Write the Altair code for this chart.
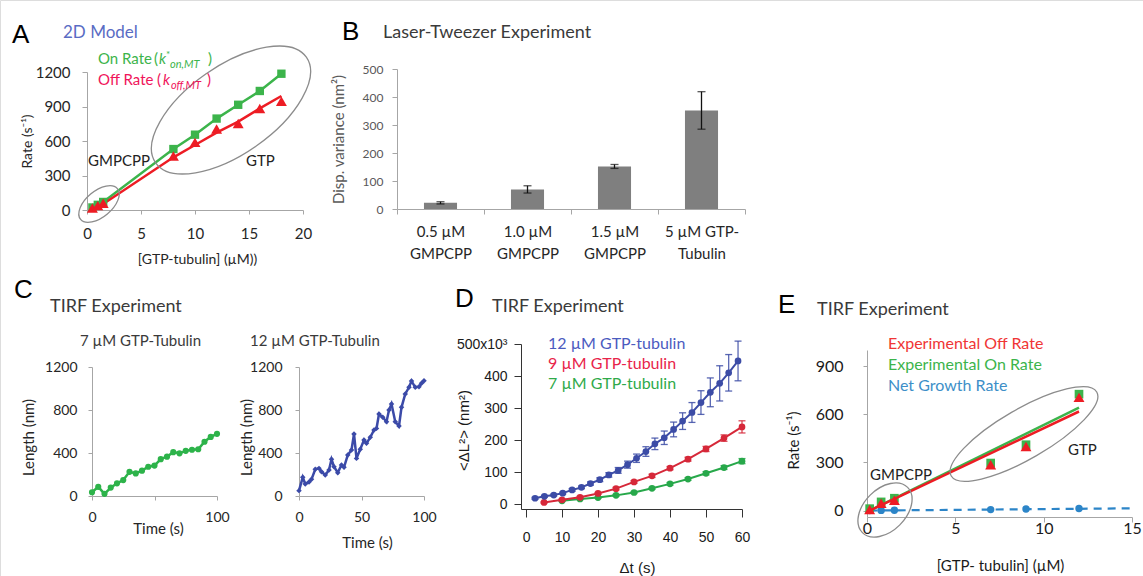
import altair as alt
import pandas as pd

W, H = 1143, 576
CAL = "Lato"
ARI = "Liberation Sans"

# ---------------- Panel A : 2D model ----------------
A_conc = [0.5, 1.0, 1.5, 8, 10, 12, 14, 16, 18]
A_on_rate = [22, 45, 70, 530, 655, 795, 915, 1035, 1185]
A_off_rate = [18, 38, 58, 470, 588, 705, 752, 882, 945]
A_off_model = [12, 32, 52, 458, 565, 672, 768, 884, 991]

# ---------------- Panel B : laser tweezer ----------------
B_conditions = ["0.5 µM|GMPCPP", "1.0 µM|GMPCPP", "1.5 µM|GMPCPP", "5 µM GTP-|Tubulin"]
B_variance = [22, 70, 152, 352]
B_error = [4, 13, 7, 67]

# ---------------- Panel C : TIRF traces ----------------
C1_time = [0, 5, 10, 15, 20, 25, 30, 35, 40, 45, 50, 55, 60, 65, 70, 75, 80, 85, 90, 95, 100]
C1_length = [35, 85, 20, 78, 118, 148, 225, 210, 236, 272, 283, 343, 366, 408, 397, 420, 430,
             435, 505, 550, 578]
C2_time = [0, 3, 5, 8, 10, 13, 16, 18, 21, 24, 26, 28, 31, 34, 36, 39, 42, 44, 46, 49,
           52, 54, 57, 60, 62, 64, 67, 70, 72, 74, 77, 80, 82, 85, 88, 90, 93, 96, 98, 100]
C2_length = [50, 174, 112, 130, 155, 248, 257, 226, 195, 242, 341, 273, 217, 288, 267, 381,
             428, 577, 350, 434, 521, 490, 546, 614, 629, 763, 732, 691, 800, 856, 691, 651,
             825, 949, 1011, 1070, 1011, 1017, 1048, 1073]

# ---------------- Panel D : MSD ----------------
D12_dt = [2.5, 5.1, 7.7, 10.2, 12.8, 15.4, 17.9, 20.5, 23.0, 25.6, 28.2, 30.7, 33.3, 35.8,
          38.4, 41.0, 43.5, 46.1, 48.6, 51.2, 53.8, 56.3, 58.9]
D12_msd = [18, 24, 28, 34, 44, 52, 64, 76, 91, 105, 123, 143, 164, 188, 207, 233, 259, 286,
           317, 349, 377, 410, 447]
D12_err = [3, 3, 3, 3, 4, 4, 5, 6, 7, 9, 11, 13, 15, 18, 21, 23, 26, 31, 37, 45, 55, 57, 62]
D9_dt = [5, 10, 15, 20, 25, 30, 35, 40, 45, 50, 55, 60]
D9_msd = [5, 13, 21, 33, 48, 69, 88, 112, 140, 172, 206, 241]
D9_err = [2, 3, 3, 3, 4, 4, 5, 5, 6, 8, 10, 19]
D7_dt = [10, 15, 20, 25, 30, 35, 40, 45, 50, 55, 60]
D7_msd = [10, 16, 20, 27, 36, 49, 63, 78, 96, 114, 134]
D7_err = [2, 2, 2, 3, 3, 3, 4, 4, 5, 6, 8]

# ---------------- Panel E : TIRF rates ----------------
E_conc = [0.15, 0.8, 1.55, 7, 9, 12]
E_off = [6, 45, 65, 286, 399, 705]
E_on = [12, 54, 77, 296, 410, 725]
E_net = [0, 1, 2, 6, 10, 13]
E_fit_conc = [0.15, 12]
E_off_fit = [0, 617]
E_on_fit = [0, 641]
E_net_fit_conc = [0.15, 15]
E_net_fit = [0, 14]

GREEN = "#3cb44b"
RED = "#ed1c24"
GREY_AX = "#a6a6a6"
ONE = pd.DataFrame({"k": [0]})


def qscale(domain, rng):
    return alt.Scale(domain=domain, range=rng, nice=False, zero=False)


def bottom_axis(axis_y, values, title, title_x, title_dy, label_dy, tick=5, lsize=14,
                tsize=15, font=CAL, lcolor="#262626", dcolor=GREY_AX, label_expr=None):
    kw = dict(orient="bottom", offset=axis_y - H, values=values, title=title, format="d",
              titleX=title_x, titleY=title_dy, titleAlign="center", titleBaseline="middle",
              titleAngle=0, titleFont=font, titleFontSize=tsize, titleFontWeight=400,
              titleColor=lcolor, labelFont=font, labelFontSize=lsize, labelColor=lcolor,
              labelBaseline="middle", labelPadding=label_dy - tick, tickSize=tick,
              tickColor=dcolor, domainColor=dcolor, labelFlush=False, labelOverlap=False,
              grid=False, labelAngle=0)
    if label_expr:
        kw["labelExpr"] = label_expr
    return alt.Axis(**kw)


def left_axis(axis_x, values, title, title_dx, title_y, label_right, tick=5, lsize=14,
              tsize=15, font=CAL, lcolor="#262626", dcolor=GREY_AX, label_expr=None):
    kw = dict(orient="left", offset=-axis_x, values=values, title=title, format="d",
              titleX=title_dx, titleY=title_y, titleAlign="center", titleBaseline="middle",
              titleAngle=270, titleFont=font, titleFontSize=tsize, titleFontWeight=400,
              titleColor=lcolor, labelFont=font, labelFontSize=lsize, labelColor=lcolor,
              labelPadding=axis_x - tick - label_right, tickSize=tick, tickColor=dcolor,
              domainColor=dcolor, labelFlush=False, labelOverlap=False, grid=False)
    if label_expr:
        kw["labelExpr"] = label_expr
    return alt.Axis(**kw)


def text(t, x, y, size=15, color="#222222", font=CAL, style="normal", weight=400):
    return alt.Chart(ONE).mark_text(
        text=t, align="left", baseline="alphabetic", fontSize=size, color=color, font=font,
        fontStyle=style, fontWeight=weight
    ).encode(x=alt.value(x), y=alt.value(y))


def ellipse(cx, cy, a, b, angle):
    r = b / a
    k = 0.5523
    p = (f"M1,0 C1,{k*r:.4f} {k},{r:.4f} 0,{r:.4f} C{-k},{r:.4f} -1,{k*r:.4f} -1,0 "
         f"C-1,{-k*r:.4f} {-k},{-r:.4f} 0,{-r:.4f} C{k},{-r:.4f} 1,{-k*r:.4f} 1,0 Z")
    return alt.Chart(ONE).mark_point(
        shape=p, filled=False, color="#8c8c8c", strokeWidth=1.3, opacity=1,
        size=(2 * a) ** 2, angle=angle
    ).encode(x=alt.value(cx), y=alt.value(cy))


# ======== Panel A ========
A_df = pd.DataFrame({"conc": A_conc, "on": A_on_rate, "off": A_off_rate, "offm": A_off_model})
A_xs = qscale([0, 20], [87, 303])
A_ys = qscale([0, 1200], [210, 72])
A_xa = bottom_axis(210, [0, 5, 10, 15, 20], "[GTP-tubulin] (µM))", 197, 49, 23, tick=4,
                   lsize=15, tsize=14)
A_ya = left_axis(87, [0, 300, 600, 900, 1200], "Rate (s⁻¹)", -60, 141, 70, tick=5,
                 lsize=15, tsize=14)
A_X = alt.X("conc:Q", scale=A_xs, axis=A_xa)
Abase = alt.Chart(A_df)
panelA = alt.layer(
    Abase.mark_line(color=GREEN, strokeWidth=2.5).encode(A_X, alt.Y("on:Q", scale=A_ys, axis=A_ya)),
    Abase.mark_line(color=RED, strokeWidth=2.5).encode(A_X, alt.Y("offm:Q", scale=A_ys, axis=A_ya)),
    Abase.mark_point(shape="square", filled=True, size=70, color=GREEN, opacity=1).encode(
        A_X, alt.Y("on:Q", scale=A_ys, axis=A_ya)),
    Abase.mark_point(shape="triangle-up", filled=True, size=120, color=RED, opacity=1).encode(
        A_X, alt.Y("off:Q", scale=A_ys, axis=A_ya)),
)

# ======== Panel B ========
B_df = pd.DataFrame({
    "cond": B_conditions, "var": B_variance,
    "lo": [v - e for v, e in zip(B_variance, B_error)],
    "hi": [v + e for v, e in zip(B_variance, B_error)],
})
B_xs = alt.Scale(domain=B_conditions, range=[397, 745], paddingInner=0, paddingOuter=0)
B_ys = qscale([0, 500], [209, 69])
B_xa = alt.Axis(orient="bottom", offset=209 - H, title=None, labelExpr="split(datum.label, '|')",
                labelFont=CAL, labelFontSize=15, labelColor="#262626", labelBaseline="top",
                labelLineHeight=22, labelPadding=10, labelAngle=0, tickBand="extent",
                tickSize=5, tickColor=GREY_AX, domainColor=GREY_AX, grid=False,
                labelOverlap=False)
B_ya = left_axis(397, [0, 100, 200, 300, 400, 500], "Disp. variance (nm²)", -59, 139, 383,
                 tick=5, lsize=12, tsize=15, lcolor="#595959")
B_X = alt.X("cond:N", scale=B_xs, axis=B_xa, sort=B_conditions)
Bbase = alt.Chart(B_df)
panelB = alt.layer(
    Bbase.mark_bar(color="#7f7f7f", width={"band": 0.38}).encode(
        B_X, alt.Y("var:Q", scale=B_ys, axis=B_ya)),
    Bbase.mark_rule(color="#111111", strokeWidth=1.3).encode(
        B_X, alt.Y("lo:Q", scale=B_ys, axis=B_ya), alt.Y2("hi:Q")),
    Bbase.mark_tick(color="#111111", thickness=1.3, size=8, orient="horizontal").encode(
        B_X, alt.Y("lo:Q", scale=B_ys, axis=B_ya)),
    Bbase.mark_tick(color="#111111", thickness=1.3, size=8, orient="horizontal").encode(
        B_X, alt.Y("hi:Q", scale=B_ys, axis=B_ya)),
)

# ======== Panel C ========
C1_df = pd.DataFrame({"t": C1_time, "L": C1_length})
C1_xs = qscale([0, 100], [92, 217])
C1_ys = qscale([0, 1200], [496, 367])
C1_xa = bottom_axis(496, [0, 50, 100], "Time (s)", 158, 32, 21, tick=4, lsize=14, tsize=15,
                    label_expr="datum.value == 50 ? '' : datum.label")
C1_ya = left_axis(92, [0, 400, 800, 1200], "Length (nm)", -64, 437, 77, tick=4, lsize=14,
                  tsize=15)
C1base = alt.Chart(C1_df)
C1_X = alt.X("t:Q", scale=C1_xs, axis=C1_xa)
C1_Y = alt.Y("L:Q", scale=C1_ys, axis=C1_ya)
panelC1 = alt.layer(
    C1base.mark_line(color="#2db34a", strokeWidth=2.5).encode(C1_X, C1_Y),
    C1base.mark_point(shape="circle", filled=True, size=38, color="#2db34a", opacity=1).encode(C1_X, C1_Y),
)

C2_df = pd.DataFrame({"t": C2_time, "L": C2_length})
C2_xs = qscale([0, 100], [299, 424])
C2_ys = qscale([0, 1200], [496, 367])
C2_xa = bottom_axis(496, [0, 50, 100], "Time (s)", 367, 46, 21, tick=4, lsize=14, tsize=15)
C2_ya = left_axis(299, [0, 400, 800, 1200], "Length (nm)", -53, 437, 282, tick=4, lsize=14,
                  tsize=15)
C2base = alt.Chart(C2_df)
C2_X = alt.X("t:Q", scale=C2_xs, axis=C2_xa)
C2_Y = alt.Y("L:Q", scale=C2_ys, axis=C2_ya)
panelC2 = alt.layer(
    C2base.mark_line(color="#3b4aa8", strokeWidth=2.5).encode(C2_X, C2_Y),
    C2base.mark_point(shape="diamond", filled=True, size=30, color="#3b4aa8", opacity=1).encode(C2_X, C2_Y),
)

# ======== Panel D ========
D_xs = qscale([-1.4, 60], [521, 742])
D_ys = qscale([-15.6, 500], [509, 344])
D_xa = bottom_axis(509, [0, 10, 20, 30, 40, 50, 60], "Δt (s)", 637, 58, 28, tick=8, lsize=14,
                   tsize=15, font=ARI, lcolor="#1a1a1a", dcolor="#333333")
D_ya = left_axis(521, [0, 100, 200, 300, 400, 500], "<ΔL²>  (nm²)", -58, 430, 507, tick=7,
                 lsize=14, tsize=15, font=ARI, lcolor="#1a1a1a", dcolor="#333333",
                 label_expr="datum.value == 500 ? '500x10³' : datum.label")


def msd_layers(dt, msd, err, color):
    d = pd.DataFrame({"dt": dt, "m": msd,
                      "lo": [m - e for m, e in zip(msd, err)],
                      "hi": [m + e for m, e in zip(msd, err)]})
    b = alt.Chart(d)
    X = alt.X("dt:Q", scale=D_xs, axis=D_xa)
    return [
        b.mark_rule(color=color, strokeWidth=1.3, opacity=0.85).encode(
            X, alt.Y("lo:Q", scale=D_ys, axis=D_ya), alt.Y2("hi:Q")),
        b.mark_tick(color=color, thickness=1.3, size=7, orient="horizontal", opacity=0.85).encode(
            X, alt.Y("lo:Q", scale=D_ys, axis=D_ya)),
        b.mark_tick(color=color, thickness=1.3, size=7, orient="horizontal", opacity=0.85).encode(
            X, alt.Y("hi:Q", scale=D_ys, axis=D_ya)),
        b.mark_line(color=color, strokeWidth=2).encode(X, alt.Y("m:Q", scale=D_ys, axis=D_ya)),
        b.mark_point(shape="circle", filled=True, size=45, color=color, opacity=1).encode(
            X, alt.Y("m:Q", scale=D_ys, axis=D_ya)),
    ]


panelD = alt.layer(
    *msd_layers(D7_dt, D7_msd, D7_err, "#27a84a"),
    *msd_layers(D9_dt, D9_msd, D9_err, "#d62839"),
    *msd_layers(D12_dt, D12_msd, D12_err, "#3c4ca6"),
)

# ======== Panel E ========
E_xs = qscale([0, 15], [867, 1132])
E_ys = qscale([-40, 1000], [517, 350])
E_xa = bottom_axis(517, [0, 5, 10, 15], "[GTP- tubulin] (µM)", 1000, 48, 11, tick=5, lsize=16,
                   tsize=15, lcolor="#1a1a1a")
E_ya = left_axis(867, [0, 300, 600, 900], "Rate (s⁻¹)", -74, 440, 843, tick=4, lsize=16,
                 tsize=15, lcolor="#1a1a1a")
E_pts = pd.DataFrame({"c": E_conc, "off": E_off, "on": E_on, "net": E_net})
E_fit = pd.DataFrame({"c": E_fit_conc, "off": E_off_fit, "on": E_on_fit})
E_nfit = pd.DataFrame({"c": E_net_fit_conc, "net": E_net_fit})
E_X = alt.X("c:Q", scale=E_xs, axis=E_xa)
panelE = alt.layer(
    alt.Chart(E_nfit).mark_line(color="#2c85c8", strokeWidth=2.2, strokeDash=[8, 6]).encode(
        E_X, alt.Y("net:Q", scale=E_ys, axis=E_ya)),
    alt.Chart(E_pts).mark_point(shape="circle", filled=True, size=55, color="#2c85c8", opacity=1).encode(
        E_X, alt.Y("net:Q", scale=E_ys, axis=E_ya)),
    alt.Chart(E_pts).mark_point(shape="square", filled=True, size=75, color=GREEN, opacity=1).encode(
        E_X, alt.Y("on:Q", scale=E_ys, axis=E_ya)),
    alt.Chart(E_fit).mark_line(color=GREEN, strokeWidth=2.5).encode(
        E_X, alt.Y("on:Q", scale=E_ys, axis=E_ya)),
    alt.Chart(E_fit).mark_line(color=RED, strokeWidth=2.5).encode(
        E_X, alt.Y("off:Q", scale=E_ys, axis=E_ya)),
    alt.Chart(E_pts).mark_point(shape="triangle-up", filled=True, size=120, color=RED, opacity=1).encode(
        E_X, alt.Y("off:Q", scale=E_ys, axis=E_ya)),
)

# ======== Annotations ========
TITLE_C = "#3a3a3a"
annotations = [
    # panel letters
    text("A", 12, 43, size=26, color="#000000", font=ARI),
    text("B", 342, 40, size=26, color="#000000", font=ARI),
    text("C", 14, 298, size=26, color="#000000", font=ARI),
    text("D", 455, 307, size=26, color="#000000", font=ARI),
    text("E", 778, 313, size=26, color="#000000", font=ARI),
    # panel titles
    text("2D Model", 63, 38, size=17, color="#5a6cc4"),
    text("Laser-Tweezer Experiment", 383, 38, size=18, color=TITLE_C),
    text("TIRF Experiment", 50, 312, size=18, color=TITLE_C),
    text("7 µM GTP-Tubulin", 80, 346, size=15, color=TITLE_C),
    text("12 µM GTP-Tubulin", 250, 346, size=15, color=TITLE_C),
    text("TIRF Experiment", 492, 312, size=18, color=TITLE_C),
    text("TIRF Experiment", 817, 315, size=18, color=TITLE_C),
    # panel A legend
    text("On Rate", 98, 64, size=15, color=GREEN),
    text("(", 154, 64, size=15, color=GREEN),
    text("k", 159, 64, size=15, color=GREEN, style="italic"),
    text("*", 166, 58, size=10, color=GREEN),
    text("on,MT", 170, 68, size=11, color=GREEN, style="italic"),
    text(")", 208, 64, size=15, color=GREEN),
    text("Off Rate", 98, 85, size=15, color="#f0145a"),
    text("(", 157, 85, size=15, color="#f0145a"),
    text("k", 163, 85, size=15, color="#f0145a", style="italic"),
    text("off,MT", 171, 89, size=11, color="#f0145a", style="italic"),
    text(")", 207, 85, size=15, color="#f0145a"),
    text("GMPCPP", 88, 166, size=15),
    text("GTP", 246, 166, size=15),
    # panel D legend
    text("12 µM GTP-tubulin", 548, 349, size=16, color="#4b5bbf"),
    text("9 µM GTP-tubulin", 548, 369, size=16, color="#e8244a"),
    text("7 µM GTP-tubulin", 548, 389, size=16, color="#2faa4a"),
    # panel E legend
    text("Experimental Off Rate", 888, 349, size=16, color="#f03535"),
    text("Experimental On Rate", 888, 370, size=16, color=GREEN),
    text("Net Growth Rate", 888, 391, size=16, color="#3d8fc8"),
    text("GMPCPP", 870, 480, size=15),
    text("GTP", 1068, 455, size=15),
]

ellipses = [
    ellipse(99, 204, 24, 13, 320),
    ellipse(231, 110, 92, 44, 325),
    ellipse(885, 510, 32, 21, 315),
    ellipse(1024, 434, 84, 25, 330),
]

chart = alt.layer(
    panelA, panelB, panelC1, panelC2, panelD, panelE, *ellipses, *annotations
).resolve_scale(
    x="independent", y="independent"
).properties(
    width=W, height=H, padding=0, autosize=alt.AutoSizeParams(type="none")
).configure_view(stroke=None).configure(background="white")

chart.save("out.html", embed_options={"renderer": "svg", "actions": False})
